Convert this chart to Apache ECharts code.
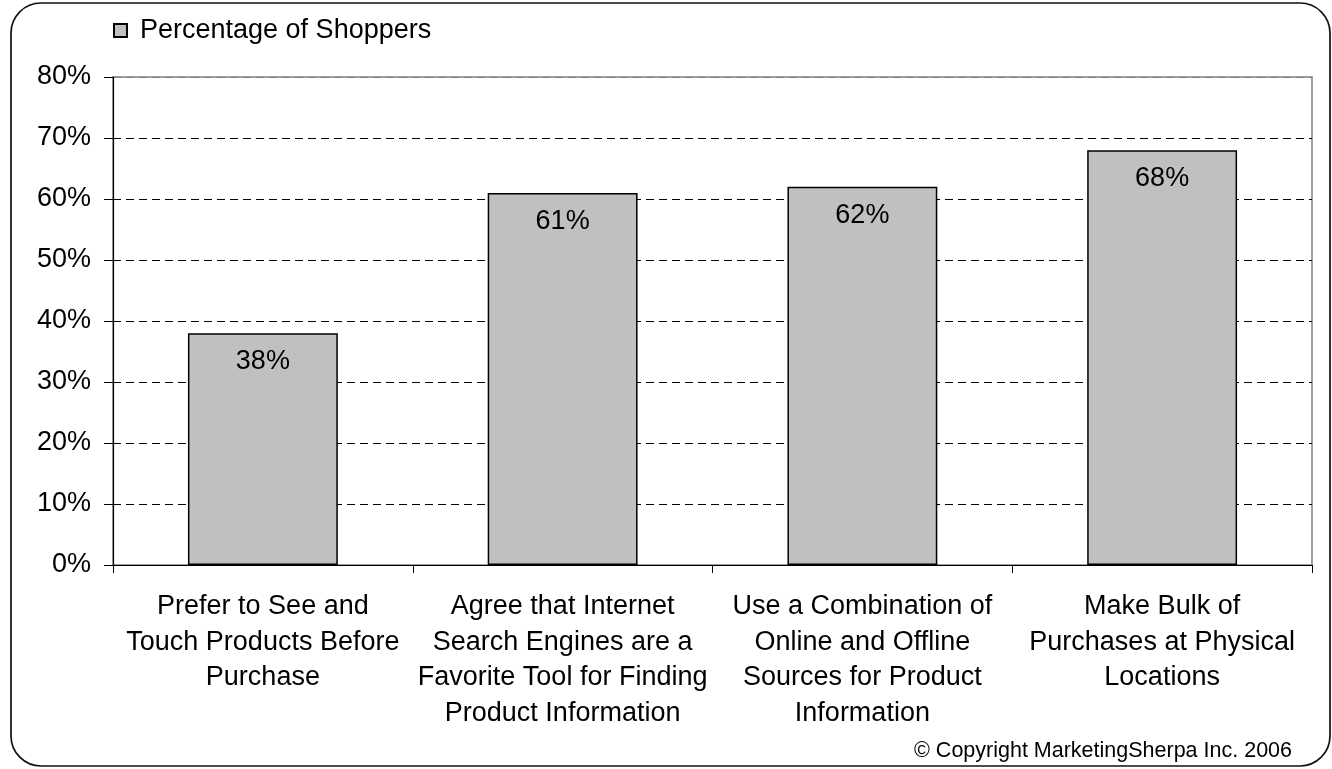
<!DOCTYPE html>
<html><head><meta charset="utf-8">
<script src="https://cdn.jsdelivr.net/npm/echarts@6/dist/echarts.min.js"></script>
<style>html,body{margin:0;padding:0;background:#fff}#c{width:1332px;height:769px}</style>
</head><body><div id="c"></div>
<script>
const categories = [
  "Prefer to See and\nTouch Products Before\nPurchase",
  "Agree that Internet\nSearch Engines are a\nFavorite Tool for Finding\nProduct Information",
  "Use a Combination of\nOnline and Offline\nSources for Product\nInformation",
  "Make Bulk of\nPurchases at Physical\nLocations"
];
const seriesName = "Percentage of Shoppers";
const values = [38, 61, 62, 68];
const yTicks = [0, 10, 20, 30, 40, 50, 60, 70, 80];
const copyright = "© Copyright MarketingSherpa Inc. 2006";

const font = "'Liberation Sans', Arial, sans-serif";
const splitColors = yTicks.map((v, i) => i === 0 ? 'transparent' : (i === yTicks.length - 1 ? '#808080' : '#000'));
const chart = echarts.init(document.getElementById('c'));
chart.setOption({
  animation: false,
  textStyle: { fontFamily: font },
  graphic: [
    { type: 'rect', shape: { x: 11, y: 3, width: 1319, height: 763, r: 30 },
      style: { fill: 'none', stroke: '#111', lineWidth: 1.7 }, z: -10 },
    { type: 'text', x: 1292, y: 751,
      style: { text: copyright, font: "21.5px 'Liberation Sans', Arial, sans-serif", fill: '#000',
               textAlign: 'right', textVerticalAlign: 'middle' } }
  ],
  legend: {
    left: 113, top: 17, padding: 0, itemWidth: 13, itemHeight: 13, itemGap: 6,
    icon: 'rect',
    textStyle: { fontSize: 27, color: '#000', fontFamily: font, padding: [0, 0, 0, 8] },
    data: [seriesName]
  },
  grid: { left: 113, right: 20, top: 77, bottom: 204, show: true, borderColor: '#808080', borderWidth: 1.5, backgroundColor: 'transparent' },
  xAxis: {
    type: 'category', data: categories,
    axisLine: { lineStyle: { color: '#000', width: 1.2 } },
    axisTick: { show: true, length: 8, lineStyle: { color: '#000' } },
    axisLabel: { interval: 0, margin: 24, fontSize: 27, lineHeight: 35.5, color: '#000', fontFamily: font }
  },
  yAxis: {
    type: 'value', min: 0, max: 80, interval: 10,
    axisLine: { show: true, lineStyle: { color: '#000', width: 1.2 } },
    axisTick: { show: true, length: 9, lineStyle: { color: '#000' } },
    axisLabel: { fontSize: 27, color: '#000', margin: 22, fontFamily: font,
      formatter: v => yTicks.includes(v) ? v + '%' : '' },
    splitLine: { show: true, lineStyle: { color: splitColors, type: [8, 5], width: 1 } }
  },
  series: [{
    name: seriesName, type: 'bar', data: values, barWidth: '50%',
    itemStyle: { color: '#c0c0c0', borderColor: '#000', borderWidth: 1.5 },
    label: { show: true, position: 'insideTop', distance: 15, formatter: '{c}%', fontSize: 27, color: '#000', fontFamily: font }
  }]
});
</script></body></html>
